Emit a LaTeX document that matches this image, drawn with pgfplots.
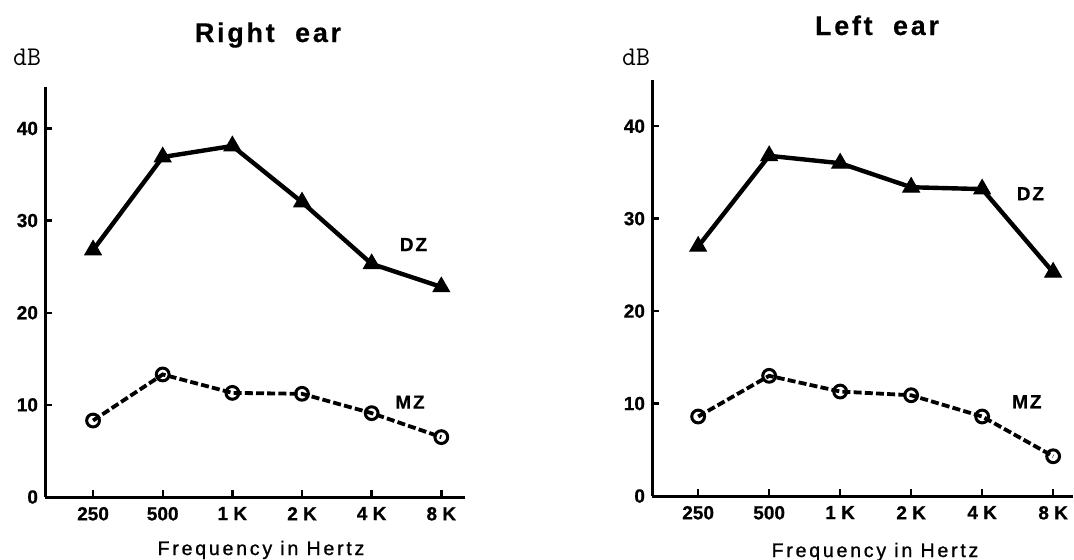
\documentclass[border=0pt]{standalone}
\usepackage{fontspec}
\setmainfont{Liberation Sans}
\newfontfamily\spaced[LetterSpace=10, FakeBold=0.6]{Liberation Sans Bold}
\newfontfamily\xlab[LetterSpace=14, FakeBold=1]{Liberation Sans}
\newfontfamily\titlef[LetterSpace=10, FakeBold=0.3]{Liberation Sans Bold}
\newfontfamily\tickf[FakeBold=0.8]{Liberation Sans Bold}
\usepackage{pgfplots}
\pgfplotsset{compat=1.18}

\pgfplotsset{ear/.style={
    scale only axis, anchor=south west,
    axis x line=bottom, axis y line=left,
    axis line style={line width=1.5pt, -},
    ymin=0,
    xtick={0,...,5}, xticklabels={250,500,1 K,2 K,4 K,8 K},
    ytick={0,10,20,30,40},
    tick align=inside, major tick length=3.5pt,
    tick style={line width=1.2pt, black},
    tick label style={font=\fontsize{9.5}{11}\selectfont\tickf},
    xticklabel style={yshift=-1.5pt},
    /pgf/number format/assume math mode=true,
    clip=false,
  },
  dz/.style={black, line width=2.2pt, mark=triangle*, mark size=4.8pt,
    mark options={solid, line width=0.5pt, fill=black}},
  mz/.style={black, line width=1.9pt, dash pattern=on 4pt off 1.6pt,
    mark=o, mark size=3.2pt, mark options={solid, line width=1.5pt, fill=white}},
}

\begin{document}
\begin{tikzpicture}
\path[use as bounding box] (0pt,0pt) rectangle (537pt,279.5pt);

% Right ear
\begin{axis}[ear, at={(22.5pt,31pt)}, width=210pt, height=205pt,
    ymax=44.5, xmin=-0.69, xmax=5.34]
\addplot[dz] coordinates {(0,26.8) (1,36.9) (2,38.1) (3,32.0) (4,25.3) (5,22.8)};
\addplot[mz] coordinates {(0,8.3) (1,13.3) (2,11.3) (3,11.2) (4,9.1) (5,6.5)};
\node[font=\fontsize{9.5}{11}\selectfont\spaced] at (axis cs:4.6,27.4) {DZ};
\node[font=\fontsize{9.5}{11}\selectfont\spaced] at (axis cs:4.55,10.3) {MZ};
\end{axis}

% Left ear
\begin{axis}[ear, at={(326pt,31.5pt)}, width=210.5pt, height=208pt,
    ymax=45.0, xmin=-0.65, xmax=5.28]
\addplot[dz] coordinates {(0,27.0) (1,36.8) (2,36.0) (3,33.4) (4,33.2) (5,24.2)};
\addplot[mz] coordinates {(0,8.6) (1,13.0) (2,11.3) (3,10.9) (4,8.6) (5,4.3)};
\node[font=\fontsize{9.5}{11}\selectfont\spaced] at (axis cs:4.68,32.7) {DZ};
\node[font=\fontsize{9.5}{11}\selectfont\spaced] at (axis cs:4.63,10.2) {MZ};
\end{axis}

\node[anchor=base, font=\fontsize{13.5}{15}\selectfont\titlef] at (134pt,258.5pt) {Right\ \ ear};
\node[anchor=base, font=\fontsize{13.5}{15}\selectfont\titlef] at (438.5pt,262pt) {Left\ \ ear};
\node[anchor=base, font=\fontsize{13.5}{15}\selectfont\ttfamily\addfontfeatures{FakeBold=1}] at (13.5pt,247pt) {dB};
\node[anchor=base, font=\fontsize{13.5}{15}\selectfont\ttfamily\addfontfeatures{FakeBold=1}] at (318pt,247pt) {dB};
\node[anchor=base, font=\fontsize{9.8}{11}\selectfont\xlab] at (130.5pt,2pt) {Frequency\ in\ Hertz};
\node[anchor=base, font=\fontsize{9.8}{11}\selectfont\xlab] at (437.5pt,1pt) {Frequency\ in\ Hertz};
\end{tikzpicture}
\end{document}
